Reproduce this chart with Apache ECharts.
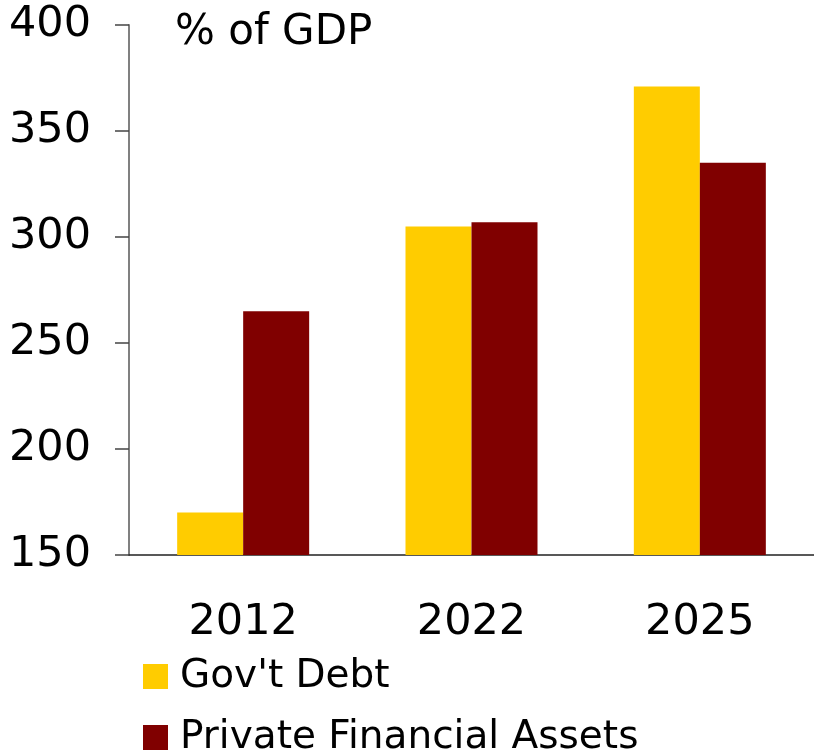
<!DOCTYPE html>
<html>
<head>
<meta charset="utf-8">
<script src="https://cdn.jsdelivr.net/npm/echarts@6/dist/echarts.min.js"></script>
<style>
  html, body { margin: 0; padding: 0; background: #fff; }
  #chart { width: 814px; height: 755px; }
</style>
</head>
<body>
<div id="chart"></div>
<script>
// Debt vs. private financial assets, % of GDP
const years = ['2012', '2022', '2025'];
const govDebt = [170, 305, 371];
const privateAssets = [265, 307, 335];
const seriesNames = ["Gov't Debt", 'Private Financial Assets'];
const yTicks = { min: 150, max: 400, step: 50 };

const FONT = 'DejaVu Sans';

// one legend row per series, stacked below the category labels
const legendRow = (name, top) => ({
  orient: 'horizontal',
  left: 143,
  top: top,
  itemWidth: 25,
  itemHeight: 25,
  icon: 'rect',
  padding: 0,
  textStyle: { fontFamily: FONT, fontSize: 39, color: '#000', lineHeight: 30, padding: [0, 0, 0, 7] },
  data: [name]
});

const chart = echarts.init(document.getElementById('chart'));
chart.setOption({
  animation: false,
  backgroundColor: '#ffffff',
  title: {
    text: '% of GDP',
    left: 175,
    top: 12,
    padding: 0,
    textStyle: { fontFamily: FONT, fontSize: 42, fontWeight: 'normal', color: '#000' }
  },
  grid: { left: 129, top: 25, width: 692, height: 530, containLabel: false },
  legend: [legendRow(seriesNames[0], 657), legendRow(seriesNames[1], 718)],
  xAxis: {
    type: 'category',
    data: years,
    axisLine: { lineStyle: { color: '#222', width: 1.5 } },
    axisTick: { length: 13, lineStyle: { color: '#444', width: 1.5 } },
    axisLabel: { fontFamily: FONT, fontSize: 43, color: '#000', margin: 46 },
    splitLine: { show: false }
  },
  yAxis: {
    type: 'value',
    min: yTicks.min,
    max: yTicks.max,
    interval: yTicks.step,
    axisLine: { show: true, lineStyle: { color: '#808080', width: 2 } },
    axisTick: { show: true, length: 14, lineStyle: { color: '#444', width: 1.5 } },
    axisLabel: { fontFamily: FONT, fontSize: 43, color: '#000', margin: 38 },
    splitLine: { show: false }
  },
  series: [
    {
      name: seriesNames[0],
      type: 'bar',
      data: govDebt,
      barWidth: 66,
      barGap: '0%',
      itemStyle: { color: '#FFCC00' }
    },
    {
      name: seriesNames[1],
      type: 'bar',
      data: privateAssets,
      barWidth: 66,
      barGap: '0%',
      itemStyle: { color: '#800000' }
    }
  ]
});
</script>
</body>
</html>
